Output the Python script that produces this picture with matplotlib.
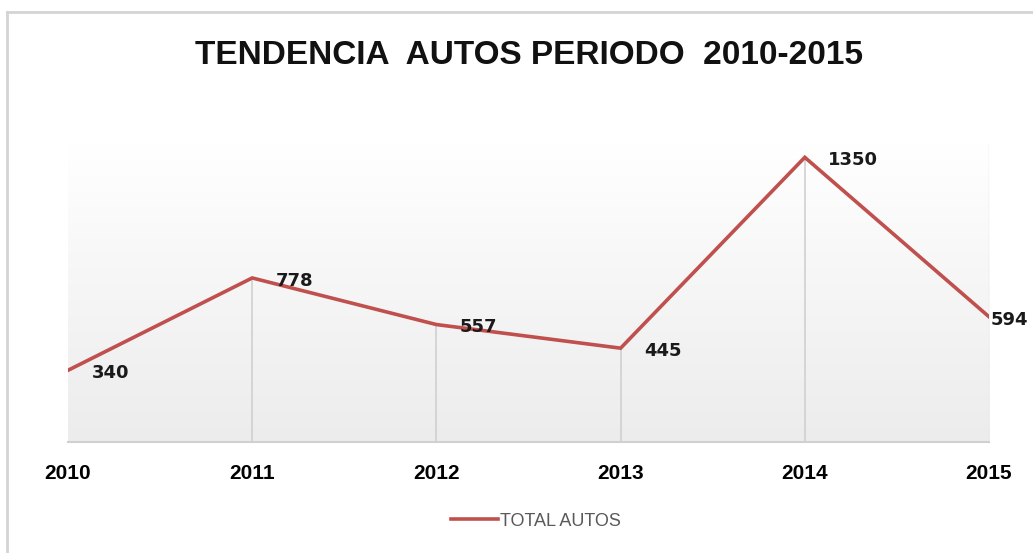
import numpy as np
import matplotlib
matplotlib.use('Agg')
import matplotlib.pyplot as plt
from matplotlib.lines import Line2D
from matplotlib.colors import LinearSegmentedColormap

years = ['2010', '2011', '2012', '2013', '2014', '2015']
total_autos = [340, 778, 557, 445, 1350, 594]

W, H = 1033, 553
fig = plt.figure(figsize=(W / 100, H / 100), dpi=100)
fig.patch.set_facecolor('white')

# outer chart frame (left and top edges visible)
fig.add_artist(Line2D([7 / W, 7 / W], [0, 1 - 12 / H], color='#d4d4d4', lw=2))
fig.add_artist(Line2D([7 / W, 1], [1 - 12 / H, 1 - 12 / H], color='#d4d4d4', lw=2))

ax = fig.add_axes([68 / W, 1 - 442 / H, (989 - 68) / W, (442 - 143) / H])
x = np.arange(len(years))
ymax = 1418
ax.set_xlim(0, len(years) - 1)
ax.set_ylim(0, ymax)

# background gradient, white on top to light grey at the bottom
cmap = LinearSegmentedColormap.from_list('bg', ['#ececec', '#ffffff'])
grad = np.linspace(0, 1, 256).reshape(-1, 1)
ax.imshow(grad, aspect='auto', cmap=cmap, origin='lower',
          extent=[0, len(years) - 1, 0, ymax], zorder=0)

# drop lines
ax.vlines(x[1:-1], 0, total_autos[1:-1], color='#d0d0d0', lw=1.2, zorder=1)
ax.vlines([x[-1]], 0, ymax, color='#e6e6e6', lw=1.0, zorder=1)

line, = ax.plot(x, total_autos, color='#c0504d', lw=2.6, zorder=3,
                solid_joinstyle='miter', label='TOTAL AUTOS')

for i, (xi, v) in enumerate(zip(x, total_autos)):
    # last label squeezed against the right edge so it stays inside
    dx = 1.5 if i == len(x) - 1 else 17
    ax.annotate(str(v), (xi, v), xytext=(dx, -2), textcoords='offset points',
                ha='left', va='center', fontsize=13, fontweight='bold',
                family='DejaVu Sans', color='#1a1a1a', annotation_clip=False,
                clip_on=False)

for s in ['top', 'right', 'left']:
    ax.spines[s].set_visible(False)
ax.spines['bottom'].set_color('#d0d0d0')
ax.spines['bottom'].set_linewidth(1.5)
ax.set_yticks([])
ax.set_xticks(x)
ax.set_xticklabels(years, fontsize=15, fontweight='bold', family='Liberation Sans')
ax.tick_params(axis='x', length=0, pad=16)

fig.text(529 / W, 1 - 56 / H, 'TENDENCIA  AUTOS PERIODO  2010-2015',
         ha='center', va='center', fontsize=24, fontweight='bold',
         family='Liberation Sans', color='#111111')

leg = fig.legend(handles=[line], loc='center', bbox_to_anchor=(536 / W, 1 - 521 / H),
                 frameon=False, handlelength=2.6, handletextpad=0.1,
                 prop={'family': 'Liberation Sans', 'size': 13})
for t in leg.get_texts():
    t.set_color('#595959')

fig.savefig('out.png', dpi=100)
